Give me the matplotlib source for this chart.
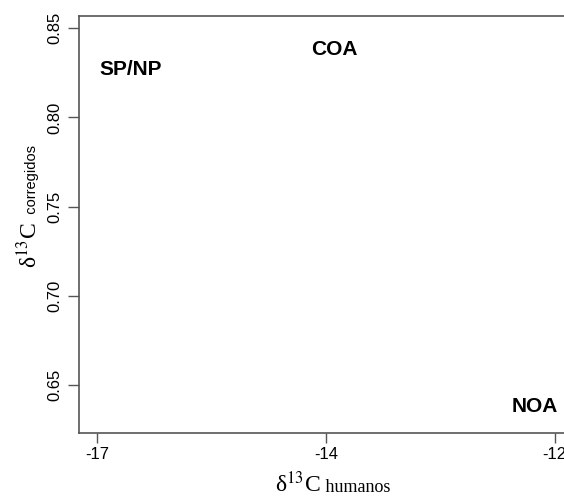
import matplotlib
matplotlib.use("Agg")
import matplotlib.pyplot as plt

# region labels placed at (d13C humanos, d13C corregidos)
regions = ["SP/NP", "COA", "NOA"]
x_vals = [-16.64, -14.41, -12.22]
y_vals = [0.827, 0.838, 0.638]

xtick_pos = [-17, -14.5, -12]
xtick_labels = ["-17", "-14", "-12"]
ytick_pos = [0.65, 0.70, 0.75, 0.80, 0.85]
ytick_labels = ["0.65", "0.70", "0.75", "0.80", "0.85"]

SANS = "Liberation Sans"
SERIF = "Liberation Serif"
AXCOL = "#555555"

fig = plt.figure(figsize=(5.64, 4.96), dpi=100)
ax = fig.add_axes([0.140, 0.127, 0.876, 0.841])

for name, x, y in zip(regions, x_vals, y_vals):
    ax.text(x, y, name, ha="center", va="center", fontsize=15,
            fontweight="bold", family=SANS)

ax.set_xlim(-17.2, -11.8)
ax.set_ylim(0.623, 0.857)

ax.set_xticks(xtick_pos)
ax.set_xticklabels(xtick_labels, family=SANS, fontsize=12)
ax.set_yticks(ytick_pos)
ax.set_yticklabels(ytick_labels, family=SANS, fontsize=12, rotation=90,
                   va="center")
ax.tick_params(axis="x", length=7, width=1, color=AXCOL, pad=3)
ax.tick_params(axis="y", length=8, width=1, color=AXCOL, pad=4)

for side in ["left", "bottom", "top", "right"]:
    ax.spines[side].set_color(AXCOL)
    ax.spines[side].set_linewidth(1.2)

# x label: serif delta-13C followed by "humanos" on the same baseline
t1 = ax.annotate("δ$^{13}$C", xy=(275, 4), xycoords="figure pixels",
                 fontsize=17, family=SERIF, math_fontfamily="stix",
                 ha="left", va="baseline")
ax.annotate(" humanos", xy=(1.0, 4), xycoords=(t1, "figure pixels"),
            fontsize=13, family=SERIF, ha="left", va="baseline")

# y label: rotated, serif delta-13C followed by sans "corregidos"
t2 = ax.annotate("δ$^{13}$C", xy=(37, 228), xycoords="figure pixels",
                 fontsize=17, family=SERIF, math_fontfamily="stix",
                 rotation=90, rotation_mode="anchor",
                 ha="left", va="baseline")
ax.annotate("  corregidos", xy=(36, 1.0), xycoords=("figure pixels", t2),
            fontsize=10.5, family=SANS, rotation=90, rotation_mode="anchor",
            ha="left", va="baseline")

plt.savefig("out.png", dpi=100)
plt.close()
